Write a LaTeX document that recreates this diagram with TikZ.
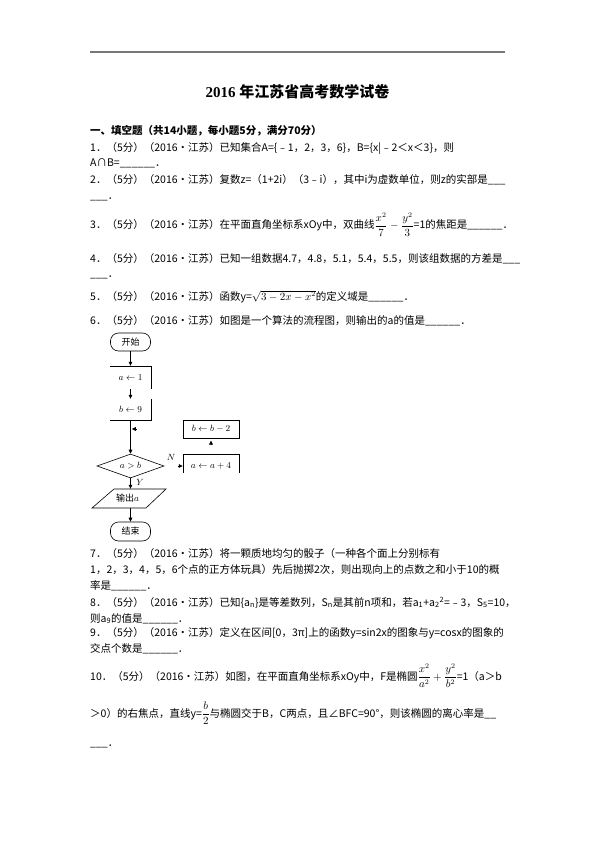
\documentclass[tikz,border=0pt]{standalone}
\usepackage{fontspec}
\setmainfont{Noto Sans CJK SC}
\newfontfamily\serifb{Liberation Serif}
\usetikzlibrary{shapes.geometric,arrows.meta,calc}
\definecolor{rulegray}{RGB}{120,120,120}
\begin{document}
\begin{tikzpicture}[x=1pt,y=-1pt,
  txt/.style={anchor=base west, inner sep=0pt, font=\fontsize{10.5}{12}\selectfont},
  fc/.style={inner sep=0pt, font=\fontsize{9}{10}\selectfont},
  fcbox/.style={fc, minimum width=41pt},
  term/.style={fc, draw, line width=0.6pt, rounded corners=8pt, minimum width=40pt, minimum height=18pt},
  dia/.style={fc, draw, line width=0.6pt, diamond, aspect=2.8, minimum width=67pt, minimum height=24pt},
  fline/.style={line width=0.6pt},
  arr/.style={line width=0.7pt, -{Triangle[length=4pt,width=3.6pt]}}]
\useasboundingbox[fill=white] (0,0) rectangle (595,842);
% top rule
\draw[rulegray, line width=1.5pt] (90,52) -- (505,52);
% title
\node[anchor=base, inner sep=0pt, font=\fontsize{15}{18}\selectfont\bfseries] (title) at (297.5,97.5) {{\serifb 2016 }年江苏省高考数学试卷};
% text lines
\node[txt] (h) at (90,135) {\bfseries 一、填空题（共14小题，每小题5分，满分70分）};
\node[txt] (l1) at (90,152) {1．（5分）（2016•江苏）已知集合A=\{﹣1，2，3，6\}，B=\{x|﹣2＜x＜3\}，则};
\node[txt] (l1b) at (90,167) {A∩B=\_\_\_\_\_\_．};
\node[txt] (l2) at (90,184) {2．（5分）（2016•江苏）复数z=（1+2i）（3﹣i），其中i为虚数单位，则z的实部是\_\_\_};
\node[txt] (l2b) at (90,200) {\_\_\_．};
\node[txt] (l3) at (90,229) {3．（5分）（2016•江苏）在平面直角坐标系xOy中，双曲线$\displaystyle\frac{x^2}{7}-\frac{y^2}{3}$=1的焦距是\_\_\_\_\_\_．};
\node[txt] (l4) at (90,262) {4．（5分）（2016•江苏）已知一组数据4.7，4.8，5.1，5.4，5.5，则该组数据的方差是\_\_\_};
\node[txt] (l4b) at (90,277) {\_\_\_．};
\node[txt] (l5) at (90,300) {5．（5分）（2016•江苏）函数y=$\sqrt{3-2x-x^2}$的定义域是\_\_\_\_\_\_．};
\node[txt] (l6) at (90,324) {6．（5分）（2016•江苏）如图是一个算法的流程图，则输出的a的值是\_\_\_\_\_\_．};
% flowchart
\node[term] (start) at (130.5,342) {开始};
\node[fcbox, minimum height=23pt] (a1) at (130.5,377.5) {$a\leftarrow 1$};
\draw[fline] (a1.south east) -- (a1.north east) -- (a1.north west);
\node[fcbox, minimum height=21pt] (b9) at (130.5,409.5) {$b\leftarrow 9$};
\draw[fline] (b9.north east) -- (b9.south east) -- (b9.south west);
\node[dia] (cond) at (130.5,466) {$a>b$};
\node[fc, draw, line width=0.6pt, minimum width=56pt, minimum height=18pt] (bb2) at (211,429) {$b\leftarrow b-2$};
\node[fc, minimum width=56pt, minimum height=24pt] (aa4) at (211,466) {$a\leftarrow a+4$};
\draw[fline] ($(aa4.north west)+(0,19)$) -- (aa4.north west) -- (aa4.north east) -- ($(aa4.north east)+(0,19)$);
\node[fc, minimum height=19pt] (out) at (130.5,498.5) {\hspace*{-6pt}输出$a$};
\draw[fline] ($(out.center)+(-16.5,-9.5)$) -- ($(out.center)+(35.5,-9.5)$) -- ($(out.center)+(15.5,9.5)$) -- ($(out.center)+(-38.5,9.5)$) -- cycle;
\node[term, minimum height=19pt] (end) at (130.5,531.5) {结束};
\node[fc] (nlab) at (171,457) {$N$};
\node[fc] (ylab) at (140,482.5) {$Y$};
\draw[arr] (start) -- (a1);
\draw[arr] (a1) -- (b9);
\draw[arr] (b9) -- (cond);
\draw[arr] (cond) -- (out);
\draw[arr] (out) -- (end);
\coordinate (j1) at (131.8,429);
\coordinate (j1s) at (136.3,429);
\draw[arr] (j1s) -- (j1);
\coordinate (j2s) at (177.5,466);
\draw[arr] (j2s) -- (aa4.west);
\coordinate (j3s) at (211,445);
\coordinate (j3) at (211,440.5);
\draw[arr] (j3s) -- (j3);
% remaining text
\node[txt] (l7) at (90,557) {7．（5分）（2016•江苏）将一颗质地均匀的骰子（一种各个面上分别标有};
\node[txt] (l7b) at (90,573) {1，2，3，4，5，6个点的正方体玩具）先后抛掷2次，则出现向上的点数之和小于10的概};
\node[txt] (l7c) at (90,589) {率是\_\_\_\_\_\_．};
\node[txt] (l8) at (90,606) {8．（5分）（2016•江苏）已知\{a\textsubscript{n}\}是等差数列，S\textsubscript{n}是其前n项和，若a\textsubscript{1}+a\textsubscript{2}\textsuperscript{2}=﹣3，S\textsubscript{5}=10，};
\node[txt] (l8b) at (90,622) {则a\textsubscript{9}的值是\_\_\_\_\_\_．};
\node[txt] (l9) at (90,636) {9．（5分）（2016•江苏）定义在区间[0，3π]上的函数y=sin2x的图象与y=cosx的图象的};
\node[txt] (l9b) at (90,652) {交点个数是\_\_\_\_\_\_．};
\node[txt] (l10) at (90,680) {10．（5分）（2016•江苏）如图，在平面直角坐标系xOy中，F是椭圆$\displaystyle\frac{x^2}{a^2}+\frac{y^2}{b^2}$=1（a＞b};
\node[txt] (l10b) at (90,717) {＞0）的右焦点，直线y=$\displaystyle\frac{b}{2}$与椭圆交于B，C两点，且∠BFC=90°，则该椭圆的离心率是\_\_};
\node[txt] (l10c) at (90,746) {\_\_\_．};
\end{tikzpicture}
\end{document}
